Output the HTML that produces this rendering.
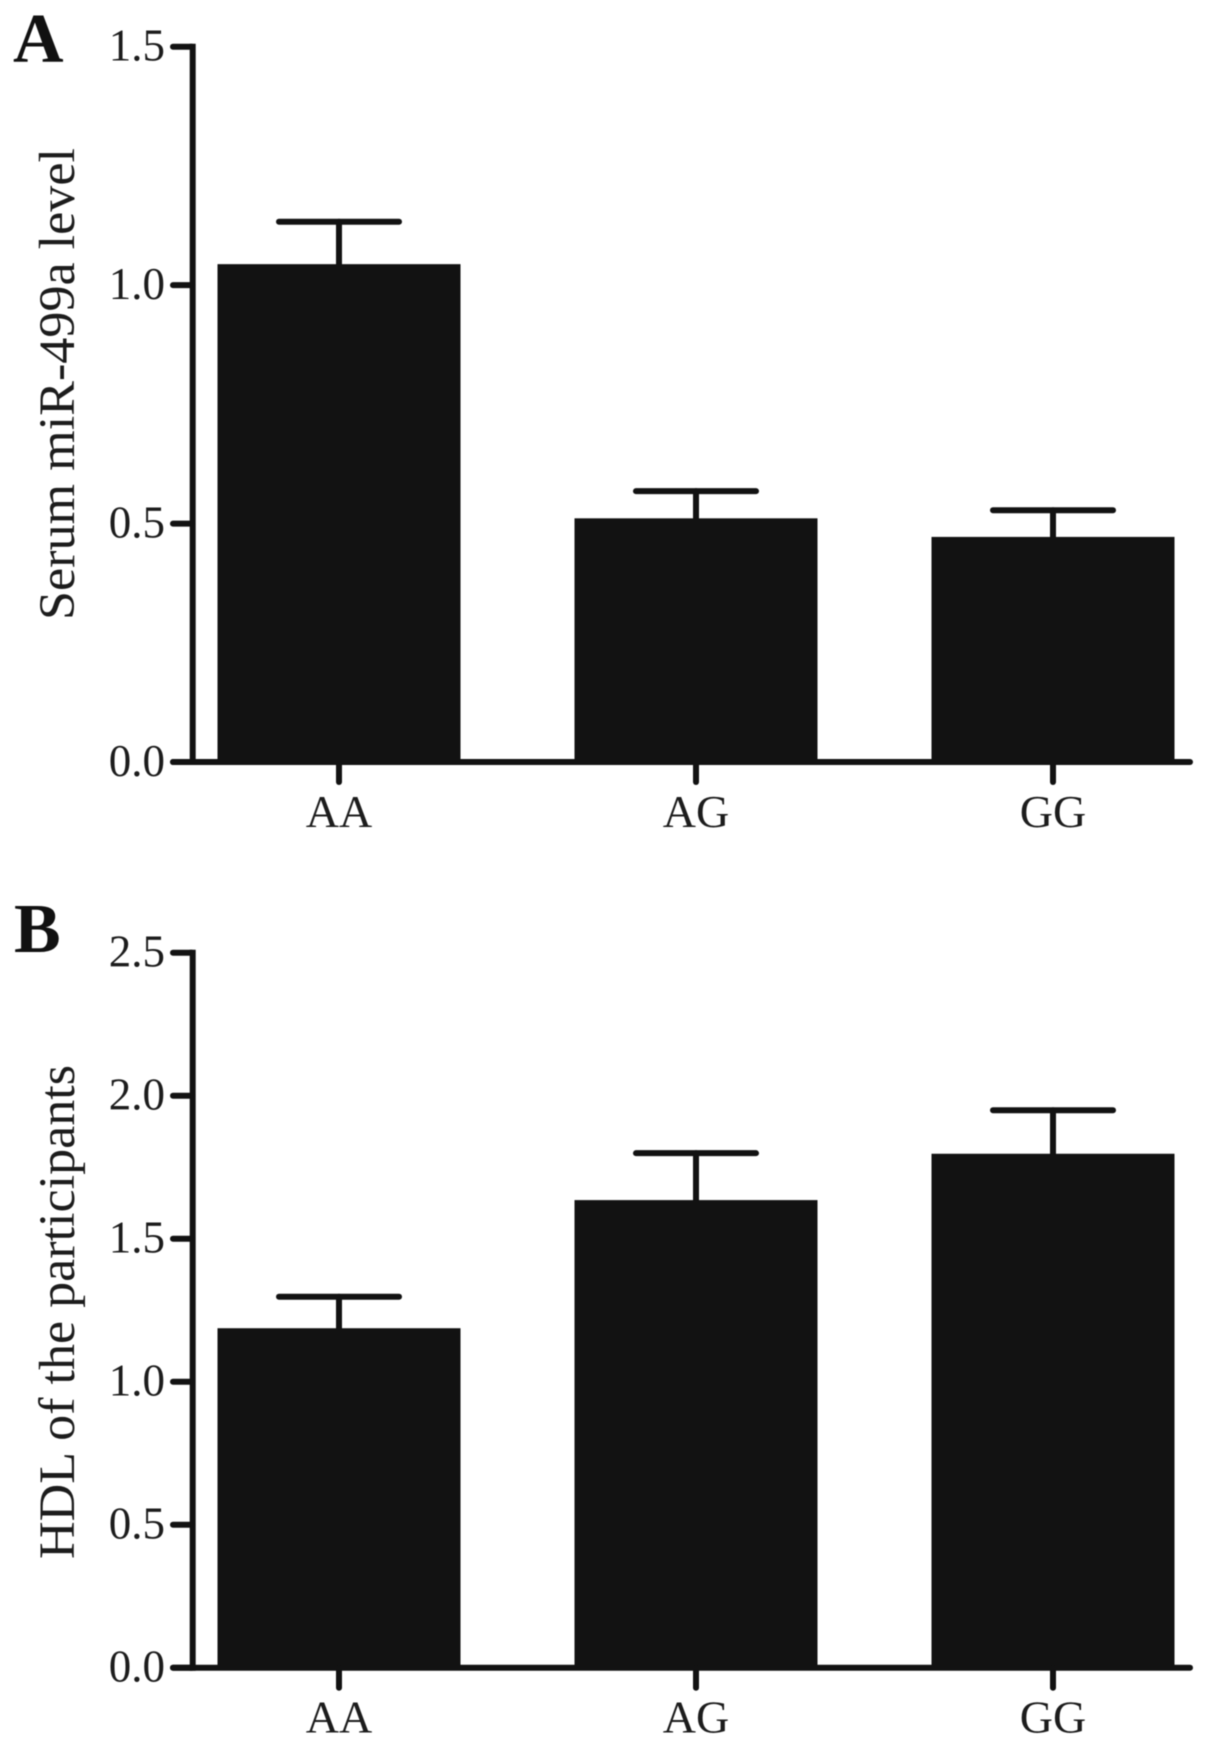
<!DOCTYPE html>
<html lang="en">
<head>
<meta charset="utf-8">
<title>Serum miR-499a level and HDL by genotype</title>
<style>
html,body{margin:0;padding:0;background:#fff;width:1205px;height:1746px;overflow:hidden}
svg{display:block;filter:blur(0.45px)}
text{font-family:"Liberation Serif",serif;fill:#1c1c1c}
</style>
</head>
<body>
<svg id="fig" xmlns="http://www.w3.org/2000/svg" width="1205" height="1746" viewBox="0 0 1205 1746"></svg>
<script>
const categories = ['AA', 'AG', 'GG'];
const panelAValues = [1.044, 0.511, 0.472];
const panelAUpper = [1.133, 0.568, 0.528];
const panelATicks = ['0.0', '0.5', '1.0', '1.5'];
const panelBValues = [1.187, 1.635, 1.797];
const panelBUpper = [1.297, 1.799, 1.949];
const panelBTicks = ['0.0', '0.5', '1.0', '1.5', '2.0', '2.5'];

const svg = document.getElementById('fig');
const NS = 'http://www.w3.org/2000/svg';
const INK = '#121212';
const centers = [339, 696, 1053];
const barWidth = 243;
const capWidth = 120;

function mk(tag, attrs, parent, txt) {
  const el = document.createElementNS(NS, tag);
  for (const k in attrs) el.setAttribute(k, attrs[k]);
  if (txt !== undefined) el.textContent = txt;
  parent.appendChild(el);
  return el;
}
function drawPanel(cfg) {
  const g = cfg.group;
  const yScale = v => cfg.y0 - (v / cfg.maxV) * (cfg.y0 - cfg.yTop);
  const stroke = {stroke: INK, 'stroke-width': 6, 'stroke-linecap': 'round', fill: 'none'};

  cfg.values.forEach((v, i) => {
    const cx = centers[i];
    const stem = mk('line', Object.assign({x1: cx, x2: cx, y1: yScale(v), y2: yScale(cfg.upper[i])}, stroke), g);
    
    
    const cap = mk('line', Object.assign({x1: cx - capWidth / 2, x2: cx + capWidth / 2, y1: yScale(cfg.upper[i]), y2: yScale(cfg.upper[i])}, stroke), g);
    
    
    const bar = mk('rect', {x: cx - barWidth / 2, y: yScale(v), width: barWidth, height: cfg.y0 - yScale(v), fill: INK}, g);
    
    
  });

  const yAxis = mk('line', Object.assign({}, stroke, {x1: 192.7, x2: 192.7, y1: cfg.yTop, y2: cfg.y0, 'stroke-linecap': 'square'}), g);
  
  
  const xAxis = mk('line', Object.assign({x1: 173, x2: 1190, y1: cfg.y0, y2: cfg.y0}, stroke), g);
  
  

  cfg.ticks.forEach(t => {
    const y = yScale(parseFloat(t));
    const tick = mk('line', Object.assign({x1: 173, x2: 192, y1: y, y2: y}, stroke), g);
    
    
    const label = mk('text', {x: 165, y: y + 14, 'text-anchor': 'end', 'font-size': 45}, g, t);
    
    
  });

  categories.forEach((c, i) => {
    const cx = centers[i];
    const tick = mk('line', Object.assign({x1: cx, x2: cx, y1: cfg.y0, y2: cfg.y0 + 20}, stroke), g);
    
    
    const label = mk('text', {x: cx, y: cfg.y0 + 65, 'text-anchor': 'middle', 'font-size': 46}, g, c);
    
    
  });

  const title = mk('text', {
    transform: 'translate(74 ' + cfg.titleY + ') rotate(-90)',
    'text-anchor': 'middle', 'font-size': 51,
    textLength: cfg.titleLen, lengthAdjust: 'spacingAndGlyphs'
  }, g, cfg.title);
  
  

  const letter = mk('text', {x: cfg.letterX, y: cfg.letterY, 'font-size': 70, 'font-weight': 'bold', style: 'fill:#111'}, g, cfg.letter);
  
  
}

const groupA = mk('g', {}, svg);


const groupB = mk('g', {}, svg);



drawPanel({group: groupA, values: panelAValues, upper: panelAUpper, ticks: panelATicks, maxV: 1.5,
  y0: 762, yTop: 46.7, title: 'Serum miR-499a level', titleY: 384, titleLen: 472,
  letter: 'A', letterX: 13, letterY: 62});
drawPanel({group: groupB, values: panelBValues, upper: panelBUpper, ticks: panelBTicks, maxV: 2.5,
  y0: 1667.7, yTop: 952.7, title: 'HDL of the participants', titleY: 1312, titleLen: 494,
  letter: 'B', letterX: 14, letterY: 952});
</script>
</body>
</html>
